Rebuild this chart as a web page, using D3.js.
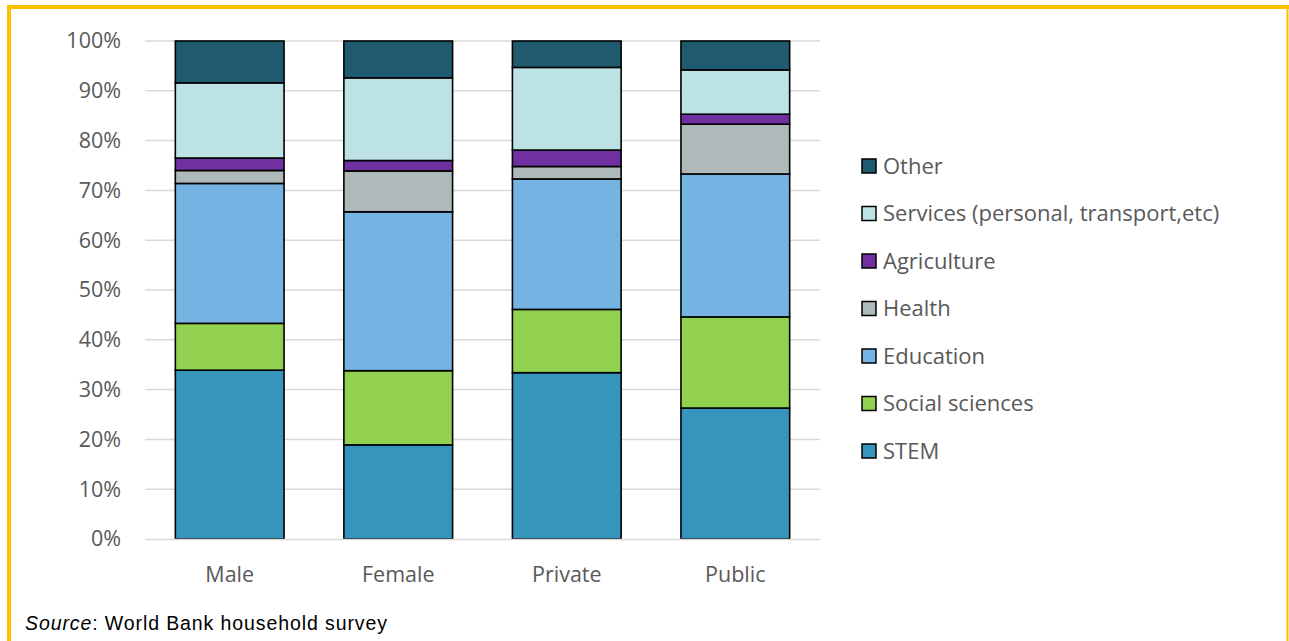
<!DOCTYPE html>
<html>
<head>
<meta charset="utf-8">
<script src="https://cdn.jsdelivr.net/npm/d3@7"></script>
<style>
  html, body { margin: 0; padding: 0; background: #fff; }
  svg { display: block; }
</style>
</head>
<body>
<svg id="chart" width="1289" height="641"></svg>
<script>
// Field of study shares (%) by group, stacked bottom to top
const categories = ["Male", "Female", "Private", "Public"];
const seriesNames = ["STEM", "Social sciences", "Education", "Health", "Agriculture",
  "Services (personal, transport,etc)", "Other"];
const stem        = [33.9, 18.9, 33.4, 26.3];
const social      = [9.4, 14.9, 12.7, 18.3];
const education   = [28.1, 31.9, 26.2, 28.7];
const health      = [2.6, 8.2, 2.5, 10.0];
const agriculture = [2.5, 2.1, 3.3, 2.0];
const services    = [15.1, 16.6, 16.6, 8.9];
const other       = [8.4, 7.4, 5.3, 5.8];
const yTicks = [0, 10, 20, 30, 40, 50, 60, 70, 80, 90, 100];
const colors = ["#3595bc", "#92d050", "#75b3e2", "#aeb9b9", "#7030a0", "#bde2e5", "#1f5a6f"];

const seriesValues = [stem, social, education, health, agriculture, services, other];
const rows = categories.map((c, i) => {
  const r = { cat: c };
  seriesNames.forEach((s, k) => { r[s] = seriesValues[k][i]; });
  return r;
});

const svg = d3.select("#chart");
const W = 1289, H = 641;
const font = "'Open Sans', 'Noto Sans', sans-serif";

// Frame: yellow rule along top, left and right edges
svg.append("line").attr("x1", 7).attr("x2", 1289).attr("y1", 7).attr("y2", 7)
  .attr("stroke", "#ffc000").attr("stroke-width", 4);
svg.append("line").attr("x1", 9).attr("x2", 9).attr("y1", 5).attr("y2", H)
  .attr("stroke", "#ffc000").attr("stroke-width", 4);
svg.append("line").attr("x1", 1287.5).attr("x2", 1287.5).attr("y1", 5).attr("y2", H)
  .attr("stroke", "#ffc000").attr("stroke-width", 2);

const plot = { left: 145, right: 820, top: 41, bottom: 539 };

const x = d3.scaleBand().domain(categories)
  .range([plot.left, plot.right]).paddingInner(0.355).paddingOuter(0.18);
const y = d3.scaleLinear().domain([0, 100]).range([plot.bottom, plot.top]);

// Gridlines
svg.append("g").selectAll("line").data(yTicks.filter(t => t > 0)).join("line")
  .attr("x1", plot.left).attr("x2", plot.right)
  .attr("y1", d => y(d)).attr("y2", d => y(d))
  .attr("stroke", "#d9d9d9").attr("stroke-width", 1.5);

// Y axis labels
const yAxis = svg.append("g").attr("transform", `translate(${plot.left},0)`)
  .call(d3.axisLeft(y).tickValues(yTicks).tickFormat(d => d + "%").tickSize(0).tickPadding(24));
yAxis.select(".domain").remove();
yAxis.selectAll("text").attr("font-family", font).attr("font-size", 21.5).attr("fill", "#595959");

// Stacked bars
const stack = d3.stack().keys(seriesNames);
const layers = stack(rows);
svg.append("g").selectAll("g").data(layers).join("g")
  .attr("fill", (d, i) => colors[i])
  .selectAll("rect").data(d => d).join("rect")
  .attr("x", d => x(d.data.cat))
  .attr("width", x.bandwidth())
  .attr("y", d => y(d[1]))
  .attr("height", d => y(d[0]) - y(d[1]))
  .attr("stroke", "#000").attr("stroke-width", 1.6);

// Baseline
svg.append("line").attr("x1", plot.left).attr("x2", plot.right)
  .attr("y1", plot.bottom + 0.5).attr("y2", plot.bottom + 0.5)
  .attr("stroke", "#d9d9d9").attr("stroke-width", 1.5);

// X axis labels
const xAxis = svg.append("g").attr("transform", `translate(0,${plot.bottom})`)
  .call(d3.axisBottom(x).tickSize(0).tickPadding(28));
xAxis.select(".domain").remove();
xAxis.selectAll("text").attr("font-family", font).attr("font-size", 21.5).attr("fill", "#595959");

// Legend, top entry = top of stack
const legendItems = seriesNames.map((s, i) => ({ name: s, color: colors[i] })).reverse();
const legend = svg.append("g").attr("transform", "translate(861,166)");
const li = legend.selectAll("g").data(legendItems).join("g")
  .attr("transform", (d, i) => `translate(0,${i * 47.5})`);
li.append("rect").attr("x", 1).attr("y", -7).attr("width", 14).attr("height", 14)
  .attr("fill", d => d.color).attr("stroke", "#000").attr("stroke-width", 1.5);
li.append("text").attr("x", 22).attr("y", 0).attr("dy", "0.35em")
  .attr("font-family", font).attr("font-size", 22).attr("fill", "#595959")
  .text(d => d.name);

// Source note
const src = svg.append("text").attr("x", 25).attr("y", 630)
  .attr("font-family", "'Liberation Sans', 'Noto Sans', sans-serif").attr("font-size", 19.5)
  .attr("letter-spacing", 0.9).attr("fill", "#000");
src.append("tspan").attr("font-style", "italic").text("Source");
src.append("tspan").text(": World Bank household survey");
</script>
</body>
</html>
